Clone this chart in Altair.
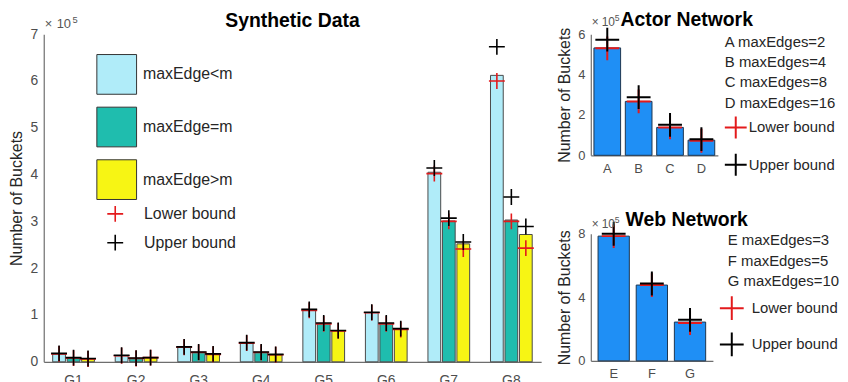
import altair as alt
import pandas as pd

FONT = "Liberation Sans"
CROSS = "M-1,0L1,0M0,-1L0,1"
RED = "#e31a1c"
BLUE = "#1f8ff5"

# ---------------- Synthetic data ----------------
groups = ["G1", "G2", "G3", "G4", "G5", "G6", "G7", "G8"]
series_names = ["maxEdge<m", "maxEdge=m", "maxEdge>m"]
series_colors = ["#b0ecf9", "#1fbdae", "#f7f514"]
less_vals = [17000, 13000, 31000, 40000, 110000, 105000, 405000, 612000]
equal_vals = [8000, 7000, 20000, 20000, 82000, 82000, 301000, 303000]
greater_vals = [6000, 9000, 16000, 15000, 66000, 70000, 252000, 272000]
lower_less = [17000, 13000, 31000, 40000, 110000, 105000, 402000, 600000]
lower_equal = [8000, 7000, 20000, 20000, 81000, 81000, 300000, 300000]
lower_greater = [6000, 9000, 16000, 15000, 66000, 69000, 241000, 243000]
upper_less = [18000, 14000, 32000, 41000, 112000, 106000, 414000, 673000]
upper_equal = [9000, 8000, 21000, 21000, 83000, 83000, 307000, 352000]
upper_greater = [7000, 9000, 17000, 16000, 67000, 71000, 256000, 289000]
bound_names = ["Lower bound", "Upper bound"]

# ---------------- Actor network ----------------
actor_cats = ["A", "B", "C", "D"]
actor_info = ["A maxEdges=2", "B maxEdges=4", "C maxEdges=8", "D maxEdges=16"]
actor_vals = [532000, 267000, 138000, 75000]
actor_lower = [530000, 267000, 138000, 72000]
actor_upper = [573000, 288000, 151000, 80000]

# ---------------- Web network ----------------
web_cats = ["E", "F", "G"]
web_info = ["E maxEdges=3", "F maxEdges=5", "G maxEdges=10"]
web_vals = [785000, 477000, 244000]
web_lower = [785000, 477000, 238000]
web_upper = [800000, 487000, 258000]

# ---------- tables ----------
rows = []
for i, g in enumerate(groups):
    for s, vals in zip(series_names, [less_vals, equal_vals, greater_vals]):
        rows.append({"group": g, "series": s, "value": vals[i]})
main_bars = pd.DataFrame(rows)

brows = []
for bname, lists in [("Lower bound", [lower_less, lower_equal, lower_greater]),
                     ("Upper bound", [upper_less, upper_equal, upper_greater])]:
    for s, vals in zip(series_names, lists):
        for i, g in enumerate(groups):
            brows.append({"group": g, "series": s, "bound": bname, "value": vals[i]})
main_bounds = pd.DataFrame(brows)


def small_tables(cats, info, vals, lower, upper):
    bars = pd.DataFrame({"cat": cats, "info": info, "value": vals})
    b = []
    for bname, lst in [("Lower bound", lower), ("Upper bound", upper)]:
        for c, v in zip(cats, lst):
            b.append({"cat": c, "bound2": bname, "value": v})
    return bars, pd.DataFrame(b)


actor_bars, actor_bounds = small_tables(actor_cats, actor_info, actor_vals, actor_lower, actor_upper)
web_bars, web_bounds = small_tables(web_cats, web_info, web_vals, web_lower, web_upper)


def exp_label(px, py, fs, gap1, gap2):
    def txt(s, x, y, size):
        return alt.Chart(pd.DataFrame({"t": [s]})).mark_text(
            align="left", baseline="alphabetic", font=FONT, fontSize=size, color="#555555"
        ).encode(text="t:N", x=alt.value(x), y=alt.value(y))
    return [txt("\u00d7", px, py, fs), txt("10", px + gap1, py, fs),
            txt("5", px + gap2, py - 5, fs * 0.72)]


# ---------- main chart ----------
xg = alt.X("group:N", scale=alt.Scale(domain=groups, paddingInner=0.333, paddingOuter=0.143),
           axis=alt.Axis(title=None, labelFontSize=14, labelPadding=12, ticks=False, labelAngle=0))
xo = alt.XOffset("series:N", scale=alt.Scale(domain=series_names, paddingInner=0.12))
ym = alt.Y("value:Q", scale=alt.Scale(domain=[0, 700000], nice=False),
           axis=alt.Axis(values=list(range(0, 700001, 100000)), labelExpr="datum.value / 100000",
                         title="Number of Buckets", titleFontSize=16, labelFontSize=14,
                         grid=False, ticks=False, labelPadding=6, titlePadding=6))

main_bar = alt.Chart(main_bars).mark_bar(stroke="#4a4a4a", strokeWidth=1).encode(
    x=xg, xOffset=xo, y=ym,
    fill=alt.Fill("series:N", scale=alt.Scale(domain=series_names, range=series_colors),
                  legend=alt.Legend(orient="none", legendX=53, legendY=20, title=None,
                                    symbolType="square", symbolSize=1600,
                                    symbolStrokeColor="#333333", symbolStrokeWidth=1,
                                    labelFontSize=16, labelOffset=6, rowPadding=8,
                                    labelFont=FONT, labelColor="#262626")),
)
main_pts = alt.Chart(main_bounds).mark_point(shape=CROSS, filled=False, size=256,
                                             strokeWidth=1.6, opacity=1).encode(
    x=xg, xOffset=xo, y="value:Q",
    stroke=alt.Stroke("bound:N", scale=alt.Scale(domain=bound_names, range=[RED, "#000000"]),
                      legend=alt.Legend(orient="none", legendX=63, legendY=172, title=None,
                                        symbolType=CROSS, symbolSize=256, symbolStrokeWidth=1.6,
                                        labelFontSize=16, labelOffset=20, rowPadding=5,
                                        labelFont=FONT, labelColor="#262626")),
)
main = alt.layer(main_bar, main_pts, *exp_label(1, -6, 13, 12, 28)).properties(
    width=501, height=330,
    title=alt.TitleParams("Synthetic Data", fontSize=19.5, fontWeight="bold", font=FONT,
                          anchor="middle", offset=-15, frame="group"),
)


def small_chart(bars, bounds, cats, info, ymax, yvals, title, title_dx, title_off, tl, w, h,
                pinner, pouter, legx, legy, legx2, legy2, lab_off2, sym2, rp2):
    xs = alt.X("cat:N", scale=alt.Scale(domain=cats, paddingInner=pinner, paddingOuter=pouter),
               axis=alt.Axis(title=None, labelFontSize=13, labelPadding=7, ticks=False, labelAngle=0))
    ys = alt.Y("value:Q", scale=alt.Scale(domain=[0, ymax], nice=False),
               axis=alt.Axis(values=yvals, labelExpr="datum.value / 100000",
                             title="Number of Buckets", titleFontSize=16, labelFontSize=13,
                             grid=False, ticks=False, labelPadding=6, titlePadding=5))
    b = alt.Chart(bars).mark_bar(stroke="#1d3550", strokeWidth=1).encode(
        x=xs, y=ys,
        fill=alt.Fill("info:N", scale=alt.Scale(domain=info, range=[BLUE] * len(info)),
                      legend=alt.Legend(orient="none", legendX=legx, legendY=legy, title=None,
                                        symbolSize=0, symbolOpacity=0, symbolStrokeWidth=0,
                                        labelOffset=0, rowPadding=4.5, labelFontSize=15,
                                        labelFont=FONT, labelColor="#262626", labelLimit=200)),
    )
    p = alt.Chart(bounds).mark_point(shape=CROSS, filled=False, size=576, strokeWidth=2,
                                     opacity=1).encode(
        x=xs, y="value:Q",
        stroke=alt.Stroke("bound2:N", scale=alt.Scale(domain=bound_names, range=[RED, "#000000"]),
                          legend=alt.Legend(orient="none", legendX=legx2, legendY=legy2, title=None,
                                            symbolType=CROSS, symbolSize=sym2, symbolStrokeWidth=2,
                                            labelFontSize=15, labelOffset=lab_off2, rowPadding=rp2,
                                            labelFont=FONT, labelColor="#262626")),
    )
    return alt.layer(b, p, *exp_label(tl[0], tl[1], 12, 10, 23)).properties(
        width=w, height=h,
        title=alt.TitleParams(title, fontSize=19.5, fontWeight="bold", font=FONT,
                              anchor="start", dx=title_dx, offset=title_off, frame="group"),
    )


actor = small_chart(actor_bars, actor_bounds, actor_cats, actor_info, 600000,
                    [0, 200000, 400000, 600000], "Actor Network", 30, -16, (1, -8),
                    128, 122, 0.15, 0.1, 120, 0, 134, 82, 1, 484, 7.5)
web = small_chart(web_bars, web_bounds, web_cats, web_info, 800000,
                  [0, 200000, 400000, 600000, 800000], "Web Network", 35, -15, (1, -6),
                  123, 128, 0.18, 0.19, 123, -1, 129, 62, 7, 576, 4.5)

right = alt.vconcat(actor, web, spacing=79, bounds="flush").resolve_scale(
    x="independent", y="independent", fill="independent", stroke="independent"
).resolve_legend(fill="independent", stroke="independent")

chart = alt.hconcat(main, right, spacing=50, bounds="flush").resolve_scale(
    x="independent", y="independent", fill="independent", stroke="independent"
).resolve_legend(fill="independent", stroke="independent").properties(
    padding=0, background="white"
).configure_view(stroke=None).configure_axis(
    labelFont=FONT, titleFont=FONT, domainColor="#6e6e6e", labelColor="#4d4d4d",
    titleColor="#262626", titleFontWeight="normal", domainWidth=1.2
).configure_legend(labelFont=FONT)

chart.save("out.html", embed_options={"renderer": "svg", "actions": False})
